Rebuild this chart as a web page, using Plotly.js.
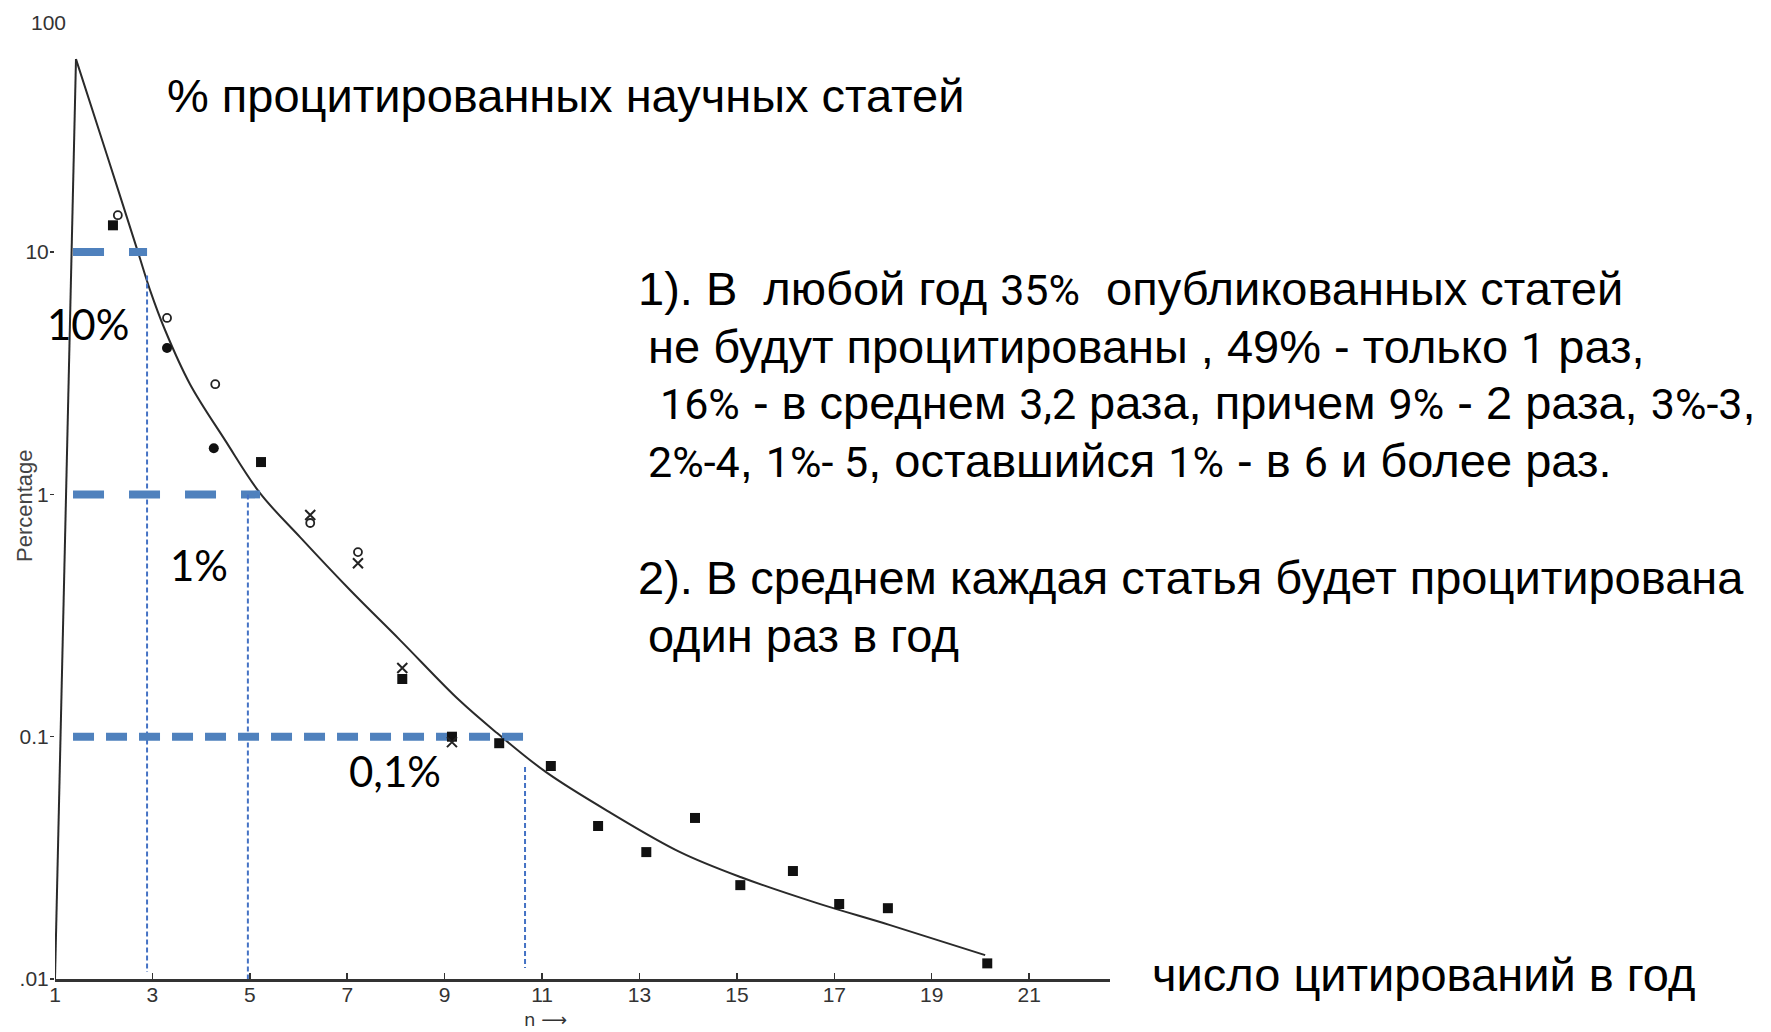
<!DOCTYPE html>
<html>
<head>
<meta charset="utf-8">
<script src="https://cdn.plot.ly/plotly-3.0.1.min.js"></script>
<style>html,body{margin:0;padding:0;background:#fff;}</style>
</head>
<body>
<div id="chart" style="width:1771px;height:1032px;"></div>
<script>
// ---- data ----
// smooth theoretical curve (n, percentage)
const curveN = [1.431, 2.068, 2.704, 2.951, 3.259, 3.772, 4.491, 5.209, 6.031, 7.057, 8.084, 9.296, 10.076, 11.082, 12.417, 13.834, 15.086, 16.647, 18.146, 20.097];
const curveP = [62.6, 25.1, 10.0, 6.97, 4.77, 2.85, 1.675, 1.012, 0.666, 0.403, 0.2504, 0.1416, 0.1035, 0.0714, 0.0484, 0.0334, 0.0263, 0.02056, 0.01669, 0.01255];
// left (rising) branch of the drawn line
const riseN = [1.0, 1.431];
const riseP = [0.01, 62.6];
// observed points by marker type
const squareN = [2.19, 5.23, 8.13, 9.15, 10.12, 11.18, 12.15, 13.14, 14.14, 15.07, 16.15, 17.10, 18.10, 20.14];
const squareP = [12.9, 1.36, 0.173, 0.100, 0.094, 0.0757, 0.0428, 0.0334, 0.0462, 0.0244, 0.0279, 0.0204, 0.0196, 0.0116];
const dotN = [3.30, 4.26];
const dotP = [4.02, 1.55];
const ringN = [2.29, 3.30, 4.29, 6.24, 7.22];
const ringP = [14.2, 5.35, 2.85, 0.762, 0.578];
const crossN = [6.24, 7.22, 8.13, 9.15];
const crossP = [0.822, 0.520, 0.192, 0.095];
// reference levels (10%, 1%, 0.1%) and where they meet the curve
const levelP = [10, 1, 0.1];
const levelStartN = 1.37;
const levelEndN = [2.89, 5.21, 10.63];
const dropN = [2.89, 4.96, 10.65];
const dropTopP = [8.0, 1.0, 0.075];
const dropBottomP = [0.0107, 0.01, 0.0111];
// tick labels
const xTicks = [1, 3, 5, 7, 9, 11, 13, 15, 17, 19, 21];
const yTicks = [0.01, 0.1, 1, 10];
const yTickText = ['.01', '0.1', '1', '10'];
// texts (numbers marked with [ ] are set in the lighter numeral face of the original)
const titleText = '% процитированных научных статей';
const noteLines = [
  '1). В  любой год [35%]  опубликованных статей',
  'не будут процитированы , 49% - только [1] раз,',
  '[16%] - в среднем [3,2] раза, причем [9%] - 2 раза, [3%-3],',
  '[2%-4], [1%- 5], оставшийся [1%] - в [6] и более раз.',
  '2). В среднем каждая статья будет процитирована',
  'один раз в год'
];
const levelLabels = ['10%', '1%', '0,1%'];
const xLabel = 'число цитирований в год';

// ---- layout geometry (pixels) ----
const W = 1771, H = 1032;
const L = 55, R = 661, T = 43, B = 53;
const PW = W - L - R, PH = H - T - B;
const xp = px => (px - L) / PW;
const yp = py => (H - B - py) / PH;

const blueThick = '#4f81bd';
const blueThin = '#4472c4';
const ink = '#2a2a2a';
const tickFont = {family: 'Liberation Sans, Arial, sans-serif', size: 21, color: '#333'};
const numFace = s => s.replace(/\[([^\]]+)\]/g,
  '<span style="font-family:Roboto, sans-serif;font-size:43px">$1</span>');

const traces = [];
traces.push({x: riseN, y: riseP, mode: 'lines', line: {color: ink, width: 2}, hoverinfo: 'skip'});
traces.push({x: curveN, y: curveP, mode: 'lines', line: {color: ink, width: 2, shape: 'spline', smoothing: 1}});
const hDash = ['31px,25px', '31px,25px', '21px,12px'];
for (let i = 0; i < levelP.length; i++) {
  traces.push({x: [levelStartN, levelEndN[i]], y: [levelP[i], levelP[i]], mode: 'lines',
    line: {color: blueThick, width: 8, dash: hDash[i]}, hoverinfo: 'skip'});
  traces.push({x: [dropN[i], dropN[i]], y: [dropTopP[i], dropBottomP[i]], mode: 'lines',
    line: {color: blueThin, width: 2, dash: '5px,3px'}, hoverinfo: 'skip'});
}
traces.push({x: squareN, y: squareP, mode: 'markers', marker: {symbol: 'square', size: 10, color: '#111'}});
traces.push({x: dotN, y: dotP, mode: 'markers', marker: {symbol: 'circle', size: 10, color: '#111'}});
traces.push({x: ringN, y: ringP, mode: 'markers', marker: {symbol: 'circle-open', size: 8, color: '#222', line: {width: 1.8}}});
traces.push({x: crossN, y: crossP, mode: 'markers', marker: {symbol: 'x-thin-open', size: 10, color: '#222', line: {width: 2}}});

const annotations = [];
const notePos = [[636, 289], [646, 347], [658, 403], [646, 460], [636, 577], [646, 635]];
noteLines.forEach((t, i) => annotations.push({
  text: numFace(t), xref: 'paper', yref: 'paper', x: xp(notePos[i][0]), y: yp(notePos[i][1]),
  xanchor: 'left', yanchor: 'middle', showarrow: false,
  font: {family: 'Liberation Sans, Arial, sans-serif', size: 47, color: '#000'}
}));
const lvlPos = [[45, 324], [168, 565], [347, 771]];
levelLabels.forEach((t, i) => annotations.push({
  text: t, xref: 'paper', yref: 'paper', x: xp(lvlPos[i][0]), y: yp(lvlPos[i][1]),
  xanchor: 'left', yanchor: 'middle', showarrow: false,
  font: {family: 'Lato, Open Sans, sans-serif', size: 42, color: '#000'}
}));
annotations.push({text: xLabel, xref: 'paper', yref: 'paper', x: xp(1150), y: yp(974),
  xanchor: 'left', yanchor: 'middle', showarrow: false,
  font: {family: 'Liberation Sans, Arial, sans-serif', size: 47, color: '#000'}});
annotations.push({text: '100', xref: 'paper', yref: 'paper', x: xp(68), y: yp(22),
  xanchor: 'right', yanchor: 'middle', showarrow: false, font: tickFont});
annotations.push({text: 'n ⟶', xref: 'paper', yref: 'paper', x: xp(522), y: yp(1032),
  xanchor: 'left', yanchor: 'bottom', showarrow: false,
  font: {family: 'DejaVu Sans, sans-serif', size: 18, color: '#333'}});
annotations.push({text: 'Percentage', xref: 'paper', yref: 'paper', x: xp(24), y: yp(506),
  xanchor: 'center', yanchor: 'middle', showarrow: false, textangle: -90,
  font: {family: 'Liberation Sans, Arial, sans-serif', size: 22, color: '#444'}});

const layout = {
  width: W, height: H,
  margin: {l: L, r: R, t: T, b: B, pad: 0},
  paper_bgcolor: '#fff', plot_bgcolor: '#fff',
  showlegend: false,
  title: {text: titleText, xref: 'container', yref: 'container', x: 167 / W, y: 1 - 96 / H,
    xanchor: 'left', yanchor: 'middle',
    font: {family: 'Liberation Sans, Arial, sans-serif', size: 47, color: '#000'}},
  xaxis: {range: [1, 22.66], tickvals: xTicks, ticks: 'inside', ticklen: 6, tickwidth: 1.5,
    tickcolor: '#333', showline: true, linecolor: '#333', linewidth: 2.5, showgrid: false,
    zeroline: false, tickfont: tickFont, ticklabelstandoff: -5},
  yaxis: {type: 'log', range: [-2, 1.863], tickvals: yTicks, ticktext: yTickText,
    ticks: 'outside', ticklen: 4, tickwidth: 1.5, tickcolor: '#333', showline: false,
    showgrid: false, zeroline: false, tickfont: tickFont, ticklabelstandoff: -3},
  annotations: annotations
};

Plotly.newPlot('chart', traces, layout, {displayModeBar: false, staticPlot: true});
</script>
</body>
</html>
